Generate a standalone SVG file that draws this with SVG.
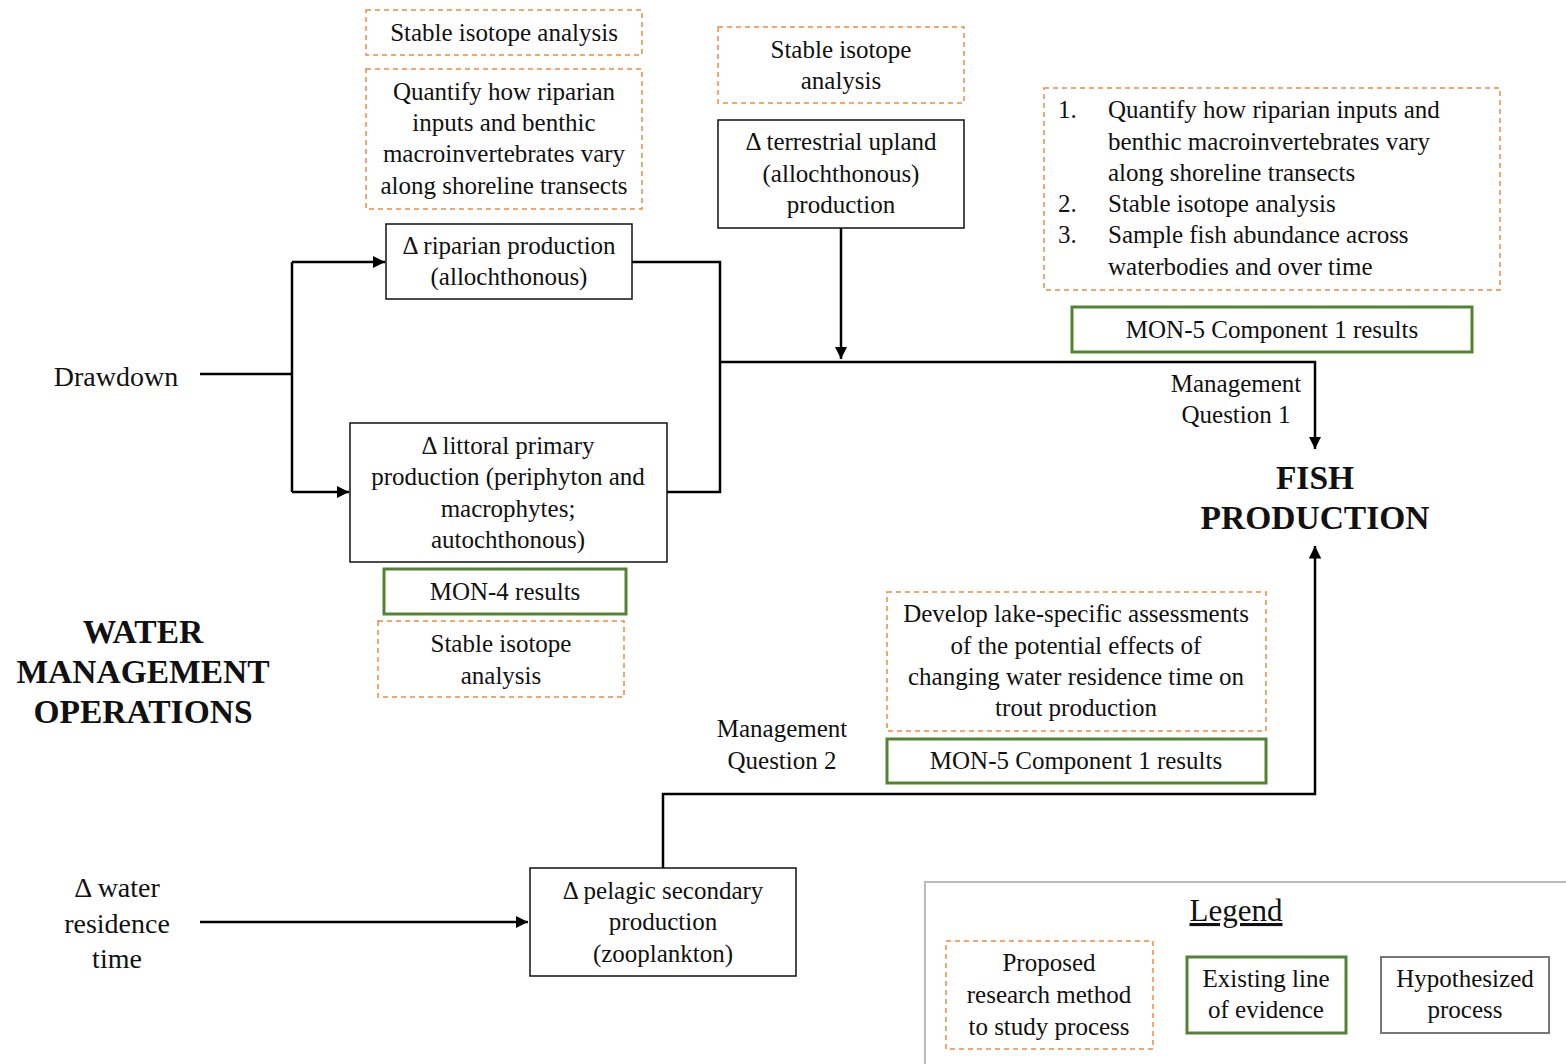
<svg xmlns="http://www.w3.org/2000/svg" width="1566" height="1064" viewBox="0 0 1566 1064" font-family="Liberation Serif, DejaVu Serif, serif">
<style>
text{font-family:'Liberation Serif','DejaVu Serif',serif;font-size:25px;fill:#111;text-anchor:middle}
.b{font-weight:bold;font-size:33.5px}
.l{text-anchor:start}
.big{font-size:28px}
.proc{fill:#fff;stroke:#111;stroke-width:1.5}
.prop{fill:#fff;stroke:#f08a3c;stroke-width:1.5;stroke-dasharray:5,4}
.ev{fill:#fff;stroke:#548235;stroke-width:3}
.c{fill:none;stroke:#000;stroke-width:2.5}
</style>
<defs>
<marker id="ah" viewBox="0 0 10 10" refX="10" refY="5" markerWidth="5" markerHeight="5" orient="auto" markerUnits="strokeWidth">
<path d="M0,0 L10,5 L0,10 z" fill="#000"/>
</marker>
</defs>
<g id="connectors">
<path class="c" d="M200,374 H292"/>
<path class="c" d="M292,262 V492"/>
<path class="c" d="M292,262 H385" marker-end="url(#ah)"/>
<path class="c" d="M292,492 H349" marker-end="url(#ah)"/>
<path class="c" d="M632,262 H720 V492 H667"/>
<path class="c" d="M720,362 H1315 V449" marker-end="url(#ah)"/>
<path class="c" d="M841,228 V359" marker-end="url(#ah)"/>
<path class="c" d="M663,868 V794 H1315 V546" marker-end="url(#ah)"/>
<path class="c" d="M200,922 H528" marker-end="url(#ah)"/>
</g>
<g id="labels">
<text class="big" x="116" y="386">Drawdown</text>
<text class="b" x="143" y="643">WATER</text>
<text class="b" x="143" y="683">MANAGEMENT</text>
<text class="b" x="143" y="723">OPERATIONS</text>
<text class="b" x="1315" y="489">FISH</text>
<text class="b" x="1315" y="529">PRODUCTION</text>
<text x="1236" y="392">Management</text>
<text x="1236" y="423">Question 1</text>
<text x="782" y="737">Management</text>
<text x="782" y="769">Question 2</text>
<text class="big" x="117" y="897">Δ water</text>
<text class="big" x="117" y="933">residence</text>
<text class="big" x="117" y="968">time</text>
</g>
<g id="sia-top">
<rect class="prop" x="366" y="10" width="276" height="45"/>
<text x="504" y="41">Stable isotope analysis</text>
</g>
<g id="quantify-top">
<rect class="prop" x="366" y="69" width="276" height="140"/>
<text x="504" y="100">Quantify how riparian</text>
<text x="504" y="131">inputs and benthic</text>
<text x="504" y="162">macroinvertebrates vary</text>
<text x="504" y="194">along shoreline transects</text>
</g>
<g id="riparian">
<rect class="proc" x="386" y="224" width="246" height="75"/>
<text x="509" y="254">Δ riparian production</text>
<text x="509" y="285">(allochthonous)</text>
</g>
<g id="sia-terrestrial">
<rect class="prop" x="718" y="27" width="246" height="76"/>
<text x="841" y="58">Stable isotope</text>
<text x="841" y="89">analysis</text>
</g>
<g id="terrestrial">
<rect class="proc" x="718" y="120" width="246" height="108"/>
<text x="841" y="150">Δ terrestrial upland</text>
<text x="841" y="182">(allochthonous)</text>
<text x="841" y="213">production</text>
</g>
<g id="methods-list">
<rect class="prop" x="1044" y="88" width="456" height="202"/>
<text class="l" x="1058" y="118">1.</text>
<text class="l" x="1108" y="118">Quantify how riparian inputs and</text>
<text class="l" x="1108" y="150">benthic macroinvertebrates vary</text>
<text class="l" x="1108" y="181">along shoreline transects</text>
<text class="l" x="1058" y="212">2.</text>
<text class="l" x="1108" y="212">Stable isotope analysis</text>
<text class="l" x="1058" y="243">3.</text>
<text class="l" x="1108" y="243">Sample fish abundance across</text>
<text class="l" x="1108" y="275">waterbodies and over time</text>
</g>
<g id="mon5-q1">
<rect class="ev" x="1072" y="307" width="400" height="45"/>
<text x="1272" y="338">MON-5 Component 1 results</text>
</g>
<g id="littoral">
<rect class="proc" x="350" y="423" width="317" height="139"/>
<text x="508" y="454">Δ littoral primary</text>
<text x="508" y="485">production (periphyton and</text>
<text x="508" y="517">macrophytes;</text>
<text x="508" y="548">autochthonous)</text>
</g>
<g id="mon4">
<rect class="ev" x="384" y="569" width="242" height="45"/>
<text x="505" y="600">MON-4 results</text>
</g>
<g id="sia-littoral">
<rect class="prop" x="378" y="621" width="246" height="76"/>
<text x="501" y="652">Stable isotope</text>
<text x="501" y="684">analysis</text>
</g>
<g id="develop">
<rect class="prop" x="887" y="592" width="379" height="139"/>
<text x="1076" y="622">Develop lake-specific assessments</text>
<text x="1076" y="654">of  the potential effects of</text>
<text x="1076" y="685">changing water residence time on</text>
<text x="1076" y="716">trout production</text>
</g>
<g id="mon5-q2">
<rect class="ev" x="887" y="739" width="379" height="44"/>
<text x="1076" y="769">MON-5 Component 1 results</text>
</g>
<g id="pelagic">
<rect class="proc" x="530" y="868" width="266" height="108"/>
<text x="663" y="899">Δ pelagic secondary</text>
<text x="663" y="930">production</text>
<text x="663" y="962">(zooplankton)</text>
</g>
<g id="legend">
<rect x="925" y="882" width="660" height="200" fill="#fff" stroke="#bbb" stroke-width="2"/>
<text x="1236" y="921" style="font-size:31px;text-decoration:underline">Legend</text>
<rect class="prop" x="946" y="941" width="207" height="108"/>
<text x="1049" y="971">Proposed</text>
<text x="1049" y="1003">research method</text>
<text x="1049" y="1035">to study process</text>
<rect class="ev" x="1187" y="957" width="159" height="76"/>
<text x="1266" y="987">Existing line</text>
<text x="1266" y="1018">of  evidence</text>
<rect x="1381" y="957" width="168" height="76" fill="#fff" stroke="#777" stroke-width="2"/>
<text x="1465" y="987">Hypothesized</text>
<text x="1465" y="1018">process</text>
</g>
</svg>
